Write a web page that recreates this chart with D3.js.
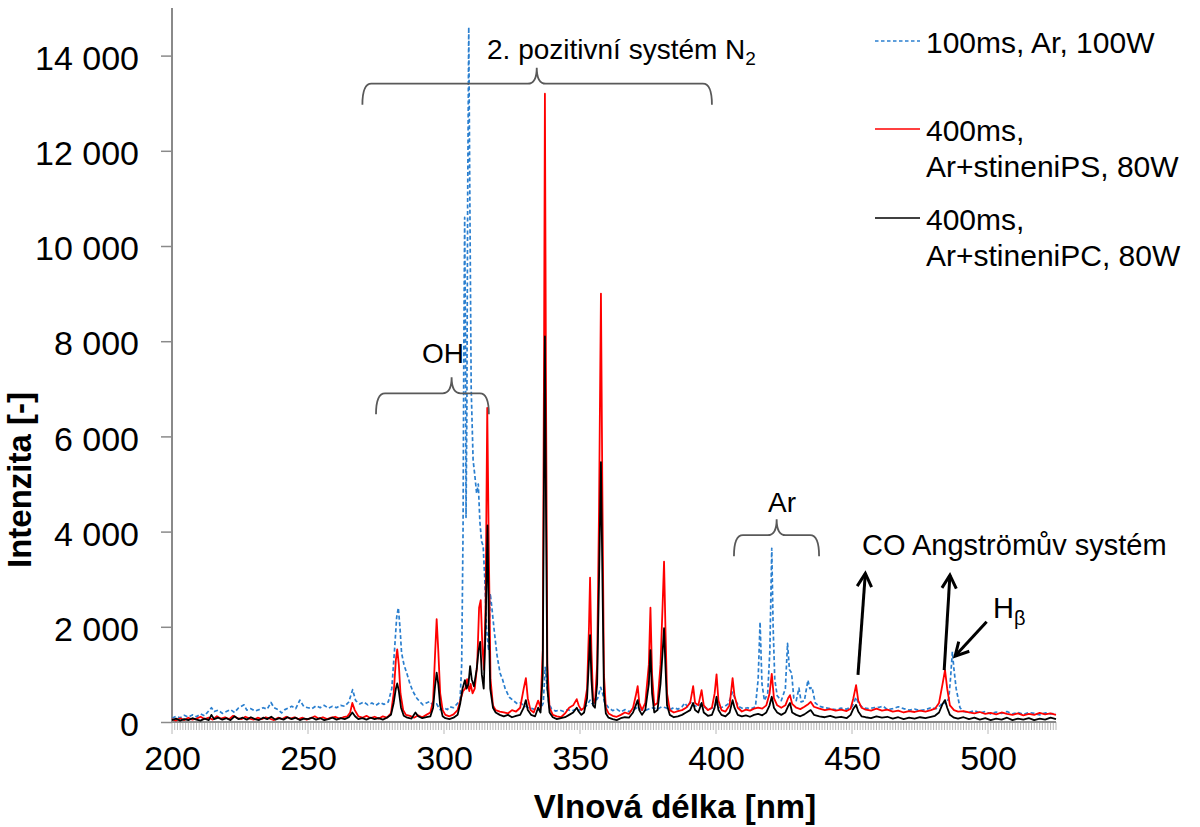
<!DOCTYPE html>
<html>
<head>
<meta charset="utf-8">
<script src="https://cdn.jsdelivr.net/npm/d3@7"></script>
<style>
  html, body { margin: 0; padding: 0; background: #fff; }
  svg { display: block; font-family: "Liberation Sans", Arial, sans-serif; }
</style>
</head>
<body>
<script>
// Emission spectra: [wavelength nm, intensity]
const spectrumAr100W = [[200,80],[201.5,120],[203,90],[204.5,140],[206,100],[207.5,150],[209,110],[210.5,170],[212,130],[213,200],[214.5,300],[215.5,220],[217,250],[218.5,180],[220,220],[221.5,260],[223,200],[224.5,300],[226.5,360],[227.5,250],[229,280],[230.5,230],[232,260],[233.5,300],[235,270],[236.4,410],[237.5,300],[239,260],[240.3,190],[241.5,260],[243,300],[244,330],[245.5,280],[247,460],[248.5,320],[250,300],[251.4,280],[253,340],[254.5,300],[256,350],[257.5,290],[259,330],[260.5,300],[262,350],[263.5,330],[265,420],[266.4,680],[267.5,450],[269,380],[270.5,420],[272,360],[273.5,400],[275,350],[276.5,410],[278,370],[279.5,420],[280.8,700],[281.8,1500],[282.6,2200],[283.2,2400],[283.8,2000],[284.4,1450],[285.3,1200],[286.3,1030],[287.5,800],[288.6,640],[290,500],[291.2,420],[292.3,360],[293.5,400],[294.8,430],[296,350],[297.3,380],[298.5,260],[300,300],[301.2,260],[302.2,320],[303.5,300],[304.8,380],[305.9,460],[306.5,1200],[307,4000],[307.3,8000],[307.6,10600],[307.9,8000],[308.1,4300],[308.4,6500],[308.7,11000],[309.1,14600],[309.5,11000],[310,7000],[310.7,5500],[311.3,5200],[312,4800],[312.6,5000],[313.2,4200],[313.8,3800],[314.4,3700],[315,3000],[315.6,2000],[316.4,1500],[317,2700],[317.6,2400],[318.5,1900],[319.5,1400],[320.6,1030],[321.5,900],[322.5,700],[324,520],[325.5,450],[327,380],[328,400],[329.5,350],[331,300],[332.5,280],[334,250],[335.5,270],[336.5,400],[337.2,1150],[337.8,800],[338.5,400],[339.5,280],[341,230],[342.5,250],[344,220],[345.5,260],[347,230],[348.5,270],[350,250],[351.5,300],[352.5,350],[353.7,460],[354.5,380],[355.5,420],[356.5,500],[357.6,730],[358.3,600],[359,420],[360.5,300],[362,240],[363.5,270],[365,210],[366.5,260],[368,220],[369.5,250],[371,300],[372.5,260],[374,240],[375.5,280],[377,300],[378.5,270],[380,320],[381.5,300],[383,260],[384.5,300],[386,270],[387.5,320],[388.5,400],[389.5,320],[390.5,420],[391.5,350],[393,330],[394.5,380],[396,300],[397.5,270],[399,300],[400.2,380],[401.5,300],[403,320],[404.5,380],[406.1,630],[407.2,450],[408.5,320],[410,280],[411.5,300],[413,280],[414.5,320],[415.5,900],[416.2,2100],[416.9,800],[417.8,450],[419,600],[419.8,1500],[420.5,3650],[421,2000],[421.6,900],[422.5,550],[424,450],[425.5,700],[426.3,1650],[427,1100],[427.8,1030],[428.6,500],[429.5,450],[430.5,710],[431.3,420],[432.5,450],[433.8,880],[434.5,700],[435.3,730],[436.5,400],[438,330],[440,300],[442,280],[444,260],[446,290],[448,270],[450,320],[451.5,520],[452.5,380],[454,300],[456,280],[458,300],[460,310],[461.5,330],[463,260],[465,280],[467,320],[469,280],[471,250],[473,270],[475,240],[477,260],[479,300],[481,280],[482.5,350],[483.5,420],[484.5,380],[485.6,500],[486.2,900],[486.9,1475],[487.5,1100],[488.3,700],[489.7,300],[491,220],[493,200],[495,240],[497,190],[499,220],[501,170],[503,210],[505,180],[507,220],[509,170],[511,200],[513,160],[515,200],[517,180],[519,150],[521,190],[523,170],[525,180]];

const spectrumShieldPS = [[200,60],[201.5,30],[203,80],[204.5,40],[206,90],[207.5,50],[209,70],[210.5,110],[212,60],[213.5,90],[215,50],[216.5,120],[218,70],[219.5,100],[221,60],[222.5,130],[224,80],[225.5,60],[227,110],[228.5,70],[230,50],[231.5,90],[233,60],[234.5,100],[236,70],[237.5,40],[239,90],[240.5,60],[242,110],[243.5,70],[245,100],[246.5,60],[248,90],[249.5,50],[251,80],[252.5,120],[254,70],[255.5,100],[257,60],[258.5,90],[260,110],[261.5,70],[263,100],[264.5,120],[265.5,200],[266.3,400],[267.2,250],[268.5,120],[270,90],[271.5,130],[273,80],[274.5,110],[276,70],[277.5,120],[279,90],[280.5,180],[281.5,600],[282.3,1300],[282.8,1525],[283.4,1200],[284,600],[285,250],[286,150],[287.5,130],[289,90],[290.5,140],[292,100],[293.5,150],[295,200],[296,450],[296.7,1400],[297.3,2160],[297.9,1500],[298.6,600],[299.5,250],[300.5,150],[302,120],[303.5,160],[305,250],[306,450],[307,650],[307.8,700],[308.5,900],[309.3,650],[309.8,800],[310.5,600],[311.3,700],[312.2,1200],[312.9,2400],[313.5,2560],[314.1,1600],[314.7,1100],[315.3,2500],[315.9,6600],[316.5,3500],[317.1,900],[318,350],[319,250],[320.5,220],[322,200],[323.5,180],[325,250],[326.5,220],[328,300],[329.3,700],[330.1,920],[330.8,500],[331.8,250],[333,200],[334.6,450],[335.5,300],[336.3,1500],[336.8,8000],[337.1,13200],[337.5,7000],[338,1200],[338.8,300],[340,150],[341.5,120],[343,100],[344.5,180],[346,300],[347.5,350],[348.8,480],[349.5,350],[350.5,250],[351.5,300],[352.6,700],[353.3,2000],[353.7,3035],[354.2,1500],[354.8,500],[355.5,400],[356.3,1200],[357,4500],[357.7,9000],[358.2,5000],[358.8,1000],[359.5,300],[360.5,180],[362,130],[363.5,110],[365,150],[366.5,200],[368,170],[369.5,300],[370.5,550],[371.2,755],[371.8,400],[372.8,250],[374,400],[375.3,1200],[375.9,2400],[376.5,1000],[377.3,350],[378.5,400],[379.6,1200],[380.4,2500],[380.9,3370],[381.4,2000],[382,600],[383,250],[384.5,200],[386,230],[387.5,250],[389,300],[390.5,400],[391.6,755],[392.3,400],[393.5,350],[394.7,670],[395.5,350],[397,250],[398.5,300],[399.5,600],[400.2,1000],[400.9,450],[402,250],[403.5,220],[405,350],[406.1,920],[406.8,550],[408,300],[409.5,220],[411,260],[412.5,240],[414,280],[415.5,300],[417,280],[418.5,350],[419.7,600],[420.5,1010],[421.3,500],[422.5,350],[424,300],[425.5,350],[426.5,500],[427.2,565],[428,380],[429.5,300],[431,270],[432.5,320],[434,380],[434.8,425],[436,320],[438,280],[440,250],[442,270],[444,240],[446,260],[448,230],[449.5,280],[450.5,500],[451.5,775],[452.3,450],[453.5,300],[455,260],[457,240],[459,280],[461,240],[463,260],[465,220],[467,240],[469,200],[471,230],[473,210],[475,240],[477,220],[479,250],[480.5,280],[482,400],[483.3,800],[484.2,1090],[485,700],[486,350],[487.5,250],[489,220],[491,230],[493,200],[495,180],[497,210],[499,170],[501,190],[503,160],[505,200],[507,170],[509,150],[511,180],[513,140],[515,170],[517,150],[519,190],[521,160],[523,180],[525,150]];

const spectrumShieldPC = [[200,40],[201.5,70],[203,30],[204.5,60],[206,40],[207.5,80],[209,50],[210.5,30],[212,70],[213.5,40],[214.5,150],[215.5,60],[217,90],[218.5,50],[220,80],[221.5,40],[223,120],[224.5,60],[226,90],[227.5,50],[229,100],[230.5,60],[232,40],[233.5,90],[235,60],[236.5,110],[238,50],[239.5,80],[241,50],[242.5,100],[244,60],[245.5,90],[247,40],[248.5,70],[250,60],[251.5,90],[253,50],[254.5,80],[256,40],[257.5,60],[259,90],[260.5,50],[262,80],[263.5,60],[265,100],[266.3,200],[267.3,120],[268.5,60],[270,80],[271.5,50],[273,90],[274.5,60],[276,80],[277.5,50],[279,90],[280.5,150],[281.5,400],[282.3,700],[282.8,810],[283.4,650],[284.2,300],[285.2,130],[286.5,90],[288,70],[289.5,200],[290.5,120],[292,80],[293.5,100],[295,120],[296,300],[296.7,750],[297.3,1035],[297.9,800],[298.6,350],[299.5,120],[300.5,80],[302,60],[303.5,90],[305,150],[306,400],[306.8,700],[307.7,880],[308.3,700],[309,800],[309.6,1175],[310.2,900],[311,750],[312,1100],[312.7,1500],[313.3,1685],[313.9,1000],[314.6,700],[315.3,2000],[316,4130],[316.5,2000],[317,700],[318,300],[319,200],[320.5,150],[322,120],[323.5,150],[325,100],[326.5,130],[328,150],[329.3,300],[330.1,460],[330.8,250],[332,150],[333.5,120],[334.6,300],[335.5,200],[336.3,1000],[336.8,5500],[337.1,8100],[337.5,4500],[338,700],[338.8,200],[340,100],[341.5,60],[343,80],[344.5,100],[346,150],[347.5,200],[348.8,300],[349.5,220],[350.5,150],[351.5,200],[352.6,500],[353.3,1300],[353.7,1825],[354.2,900],[354.8,350],[355.5,300],[356.3,800],[357,3000],[357.7,5460],[358.2,3200],[358.8,600],[359.5,180],[360.5,90],[362,60],[363.5,40],[365,80],[366.5,100],[368,90],[369.5,200],[370.5,350],[371.2,460],[371.8,250],[372.8,150],[374,250],[375.3,800],[375.9,1510],[376.5,600],[377.3,200],[378.5,250],[379.6,800],[380.4,1500],[380.9,1970],[381.4,1200],[382,350],[383,150],[384.5,100],[386,120],[387.5,150],[389,200],[390.5,250],[391.6,400],[392.3,250],[393.5,200],[394.7,400],[395.5,200],[397,130],[398.5,150],[399.5,300],[400.2,530],[400.9,250],[402,150],[403.5,120],[405,200],[406.1,460],[406.8,300],[408,150],[409.5,120],[411,140],[412.5,110],[414,150],[415.5,170],[417,140],[418.5,200],[419.7,350],[420.5,530],[421.3,300],[422.5,200],[424,150],[425.5,200],[426.5,330],[427.2,400],[428,200],[429.5,150],[431,120],[432.5,160],[434,220],[434.8,250],[436,150],[438,120],[440,100],[442,130],[444,90],[446,110],[448,80],[449.5,150],[450.5,280],[451.5,360],[452.3,220],[453.5,120],[455,100],[457,80],[459,120],[461,90],[463,110],[465,70],[467,100],[469,60],[471,90],[473,70],[475,100],[477,80],[479,110],[480.5,130],[482,200],[483.3,380],[484.2,460],[485,300],[486,150],[487.5,90],[489,70],[491,100],[493,60],[495,90],[497,50],[499,80],[501,40],[503,70],[505,50],[507,90],[509,40],[511,70],[513,50],[515,80],[517,40],[519,70],[521,50],[523,90],[525,60]];

const seriesNames = [["100ms, Ar, 100W"], ["400ms,", "Ar+stineniPS, 80W"], ["400ms,", "Ar+stineniPC, 80W"]];
const seriesColors = ["#2a7fcf", "#ff0000", "#000000"];

const xTicks = [200, 250, 300, 350, 400, 450, 500];
const yTicks = [0, 2000, 4000, 6000, 8000, 10000, 12000, 14000];

// Band braces: [from nm, tip nm, to nm, brace level (intensity)]
const braces = [[270, 334.1, 398.5, 13410], [275, 302.8, 316.5, 6905], [406.6, 422.3, 437.9, 3925]];
// Arrows: [tail nm, tail intensity, tip nm, tip intensity]
const coArrows = [[452.2, 990, 454.9, 3120], [483.9, 1090, 486.0, 3085]];
const hBetaArrow = [499.5, 2105, 487.9, 1385];

const W = 1200, H = 827;
const x = d3.scaleLinear().domain([200, 525]).range([172, 1056]);
const y = d3.scaleLinear().domain([0, 15000]).range([722, 8]);

const svg = d3.select("body").append("svg").attr("width", W).attr("height", H);
const axisGray = "#8a8a8a";
const fontStack = "Liberation Sans, Arial, sans-serif";

// minor ticks every 1 nm
const minor = d3.range(200, 526, 1);
svg.append("g").selectAll("line").data(minor).join("line")
  .attr("x1", d => x(d)).attr("x2", d => x(d))
  .attr("y1", y(0)).attr("y2", d => y(0) + (d % 50 === 0 ? 12 : 8))
  .attr("stroke", "#a6a6a6").attr("stroke-width", 0.8);

// y axis
const yAxis = svg.append("g").attr("transform", `translate(${x(200)},0)`)
  .call(d3.axisLeft(y).tickValues(yTicks).tickSize(11).tickPadding(22));
yAxis.select(".domain").attr("stroke", axisGray).attr("stroke-width", 2)
  .attr("d", `M0,${y(0)}V${y(15000)}`);
yAxis.selectAll(".tick line").attr("stroke", axisGray).attr("stroke-width", 1.5);
yAxis.selectAll(".tick text").attr("font-size", 34).attr("fill", "#000")
  .attr("font-family", fontStack).attr("dy", "0.4em")
  .text(d => d === 0 ? "0" : d3.format(",")(d).replace(/,/g, " "));

// x axis
const xAxis = svg.append("g").attr("transform", `translate(0,${y(0)})`)
  .call(d3.axisBottom(x).tickValues(xTicks).tickSize(0).tickPadding(24));
xAxis.select(".domain").attr("stroke", axisGray).attr("stroke-width", 2)
  .attr("d", `M${x(200)},0H${x(525)}`);
xAxis.selectAll(".tick text").attr("font-size", 34).attr("fill", "#000")
  .attr("font-family", fontStack);

// axis titles
svg.append("text").attr("x", 675).attr("y", 818)
  .attr("text-anchor", "middle").attr("font-weight", "bold").attr("font-size", 33)
  .text("Vlnová délka [nm]");
svg.append("text").attr("transform", `translate(31,480) rotate(-90)`)
  .attr("text-anchor", "middle").attr("font-weight", "bold").attr("font-size", 33)
  .text("Intenzita [-]");

// spectra
const line = d3.line().x(d => x(d[0])).y(d => y(d[1]));
const spectra = [spectrumAr100W, spectrumShieldPS, spectrumShieldPC];
spectra.forEach((s, i) => {
  svg.append("path").datum(s).attr("d", line)
    .attr("fill", "none").attr("stroke", seriesColors[i])
    .attr("stroke-width", i === 0 ? 1.7 : 1.8)
    .attr("stroke-linejoin", "round")
    .attr("stroke-dasharray", i === 0 ? "4,2.5" : null);
});

// braces
function bracePath(x1, xm, x2, yl) {
  const r = 9, h = 21, t = 16;
  return `M${x1},${yl + h} Q${x1},${yl} ${x1 + r},${yl} L${xm - r},${yl} ` +
    `Q${xm},${yl} ${xm},${yl - t} Q${xm},${yl} ${xm + r},${yl} L${x2 - r},${yl} ` +
    `Q${x2},${yl} ${x2},${yl + h}`;
}
const gAnn = svg.append("g");
braces.forEach(b => {
  gAnn.append("path").attr("d", bracePath(x(b[0]), x(b[1]), x(b[2]), y(b[3])))
    .attr("fill", "none").attr("stroke", "#595959").attr("stroke-width", 1.8);
});

const annFont = 28;
const n2 = gAnn.append("text").attr("x", 487).attr("y", 59).attr("font-size", annFont);
n2.append("tspan").text("2. pozitivní systém N");
n2.append("tspan").attr("font-size", 19).attr("dy", 6).text("2");
gAnn.append("text").attr("x", x(299.6)).attr("y", 363).attr("text-anchor", "middle")
  .attr("font-size", annFont).text("OH");
gAnn.append("text").attr("x", x(424.3)).attr("y", 512).attr("text-anchor", "middle")
  .attr("font-size", annFont).text("Ar");
gAnn.append("text").attr("x", 862).attr("y", 555).attr("font-size", 29).text("CO Angströmův systém");
const hb = gAnn.append("text").attr("x", 993).attr("y", 618).attr("font-size", 29);
hb.append("tspan").text("H");
hb.append("tspan").attr("font-size", 20).attr("dy", 7).text("β");

function arrow(a) {
  const x0 = x(a[0]), y0 = y(a[1]), x1 = x(a[2]), y1 = y(a[3]);
  const ang = Math.atan2(y1 - y0, x1 - x0), L = 15, sp = 0.5;
  gAnn.append("line").attr("x1", x0).attr("y1", y0).attr("x2", x1).attr("y2", y1)
    .attr("stroke", "#000").attr("stroke-width", 3);
  gAnn.append("path")
    .attr("d", `M${x1 - L * Math.cos(ang - sp)},${y1 - L * Math.sin(ang - sp)} L${x1},${y1} L${x1 - L * Math.cos(ang + sp)},${y1 - L * Math.sin(ang + sp)}`)
    .attr("fill", "none").attr("stroke", "#000").attr("stroke-width", 3)
    .attr("stroke-linejoin", "miter");
}
coArrows.forEach(arrow);
arrow(hBetaArrow);

// legend
const legendRows = [[41, 53], [129, 141], [218, 230]];
const lg = svg.append("g");
seriesNames.forEach((lines, i) => {
  lg.append("line").attr("x1", 875).attr("x2", 920)
    .attr("y1", legendRows[i][0]).attr("y2", legendRows[i][0])
    .attr("stroke", seriesColors[i]).attr("stroke-width", i === 0 ? 1.3 : 1.5)
    .attr("stroke-dasharray", i === 0 ? "3.5,2.5" : null);
  lines.forEach((t, j) => {
    lg.append("text").attr("x", 926).attr("y", legendRows[i][1] + j * 36)
      .attr("font-size", 30).text(t);
  });
});
</script>
</body>
</html>
